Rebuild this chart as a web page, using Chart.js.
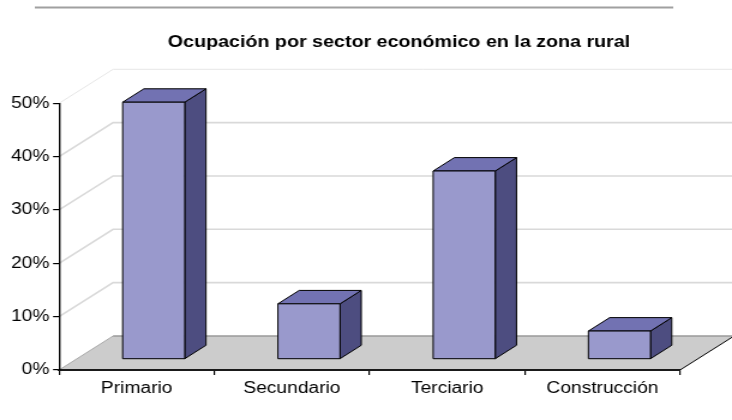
<!DOCTYPE html>
<html>
<head>
<meta charset="utf-8">
<script src="https://cdn.jsdelivr.net/npm/chart.js@4.4.1/dist/chart.umd.min.js"></script>
<style>
  html, body { margin: 0; padding: 0; background: #fff; overflow: hidden; }
  #wrap { width: 610px; height: 420px; transform: scaleX(1.2); transform-origin: 0 0; }
  canvas { display: block; }
</style>
</head>
<body>
<div id="wrap"><canvas id="c" width="610" height="420"></canvas></div>
<script>
// ---- data ----
const categories = ['Primario', 'Secundario', 'Terciario', 'Construcción'];
const values = [48.2, 10.4, 35.3, 5.3];
const yTicks = [0, 10, 20, 30, 40, 50];
const chartTitle = 'Ocupación por sector económico en la zona rural';

// ---- 3D style (depth of the box in canvas units) ----
const DEPTH = { dx: 45, dy: -34 };
const BAR_FRONT = 0.315;   // fraction of depth where the bar front face sits
const BAR_DEPTH = 0.394;   // fraction of depth the bar occupies
const COLORS = {
  front: '#9999CC', top: '#7272B2', side: '#4D4D80',
  floor: '#CCCCCC', grid: '#D9D9D9', edge: '#000000'
};

const scene3d = {
  id: 'scene3d',
  beforeDraw(chart) {
    const ctx = chart.ctx, a = chart.chartArea;
    const ys = chart.scales.y;
    const {dx, dy} = DEPTH;
    const yB = ys.getPixelForValue(0);
    ctx.save();
    // top decorative rule
    ctx.strokeStyle = '#A0A0A0'; ctx.lineWidth = 2;
    ctx.beginPath(); ctx.moveTo(29, 7.5); ctx.lineTo(561, 7.5); ctx.stroke();
    // wall gridlines
    yTicks.forEach(v => {
      if (v === 0) return;
      const y = ys.getPixelForValue(v);
      ctx.strokeStyle = v === 50 ? '#E6E6E6' : COLORS.grid;
      ctx.lineWidth = v === 50 ? 1 : 1.6;
      ctx.beginPath();
      ctx.moveTo(a.left, y);
      ctx.lineTo(a.left + dx, y + dy);
      ctx.lineTo(a.right + dx + 10, y + dy);
      ctx.stroke();
    });
    // floor
    ctx.fillStyle = COLORS.floor;
    ctx.beginPath();
    ctx.moveTo(a.left, yB);
    ctx.lineTo(a.right, yB);
    ctx.lineTo(a.right + dx, yB + dy);
    ctx.lineTo(a.left + dx, yB + dy);
    ctx.closePath();
    ctx.fill();
    // floor back edge
    ctx.strokeStyle = '#9A9A9A'; ctx.lineWidth = 1.6;
    ctx.beginPath(); ctx.moveTo(a.left + dx, yB + dy); ctx.lineTo(a.right + dx + 10, yB + dy); ctx.stroke();
    // floor left edge
    ctx.strokeStyle = '#A8A8A8'; ctx.lineWidth = 1;
    ctx.beginPath(); ctx.moveTo(a.left, yB); ctx.lineTo(a.left + dx, yB + dy); ctx.stroke();
    // floor right edge
    ctx.strokeStyle = '#000'; ctx.lineWidth = 1;
    ctx.beginPath(); ctx.moveTo(a.right, yB); ctx.lineTo(a.right + dx, yB + dy); ctx.stroke();
    ctx.restore();
  },
  afterDatasetsDraw(chart) {
    const ctx = chart.ctx;
    const {dx, dy} = DEPTH;
    const fx = dx * BAR_FRONT, fy = dy * BAR_FRONT;
    const bx = dx * BAR_DEPTH, by = dy * BAR_DEPTH;
    const meta = chart.getDatasetMeta(0);
    ctx.save();
    ctx.lineWidth = 1;
    ctx.strokeStyle = COLORS.edge;
    ctx.lineJoin = 'round';
    meta.data.forEach(bar => {
      const p = bar.getProps(['x', 'y', 'base', 'width'], true);
      const L = p.x - p.width / 2 + fx, R = p.x + p.width / 2 + fx;
      const T = p.y + fy, B = p.base + fy;
      // side
      ctx.fillStyle = COLORS.side;
      ctx.beginPath();
      ctx.moveTo(R, T); ctx.lineTo(R + bx, T + by); ctx.lineTo(R + bx, B + by); ctx.lineTo(R, B);
      ctx.closePath(); ctx.fill(); ctx.stroke();
      // top
      ctx.fillStyle = COLORS.top;
      ctx.beginPath();
      ctx.moveTo(L, T); ctx.lineTo(R, T); ctx.lineTo(R + bx, T + by); ctx.lineTo(L + bx, T + by);
      ctx.closePath(); ctx.fill(); ctx.stroke();
      // front
      ctx.fillStyle = COLORS.front;
      ctx.beginPath();
      ctx.rect(L, T, R - L, B - T);
      ctx.fill(); ctx.stroke();
    });
    ctx.restore();
  },
  afterDraw(chart) {
    const ctx = chart.ctx;
    ctx.save();
    ctx.fillStyle = '#000';
    ctx.font = 'bold 16.4px "Liberation Sans", Arial, sans-serif';
    ctx.textAlign = 'center';
    ctx.textBaseline = 'alphabetic';
    ctx.fillText(chartTitle, 332.5, 47);
    ctx.restore();
  }
};

new Chart(document.getElementById('c'), {
  type: 'bar',
  data: {
    labels: categories,
    datasets: [{
      data: values,
      backgroundColor: 'rgba(0,0,0,0)',
      borderWidth: 0,
      barPercentage: 0.4,
      categoryPercentage: 1.0
    }]
  },
  options: {
    responsive: false,
    animation: false,
    devicePixelRatio: 1,
    layout: { padding: { top: 103.3, right: 43.3, bottom: 0, left: 0 } },
    plugins: { legend: { display: false }, title: { display: false }, tooltip: { enabled: false } },
    scales: {
      x: {
        offset: true,
        afterFit(s) { s.height = 50; },
        grid: { display: true, offset: true, drawOnChartArea: false, drawTicks: true, tickLength: 5, color: '#000', lineWidth: 1.2 },
        border: { display: true, color: '#1a1a1a', width: 2 },
        ticks: { color: '#000', padding: 4, font: { family: '"Liberation Sans", Arial, sans-serif', size: 16 } }
      },
      y: {
        min: 0, max: 50,
        afterFit(s) { s.width = 49.2; },
        afterBuildTicks(s) { s.ticks = yTicks.map(v => ({ value: v })); },
        grid: { display: true, drawOnChartArea: false, drawTicks: true, tickLength: 5, color: '#000', lineWidth: 1.2 },
        border: { display: true, color: '#000', width: 1.4 },
        ticks: { color: '#000', padding: 3, callback: v => v + '%', font: { family: '"Liberation Sans", Arial, sans-serif', size: 16 } }
      }
    }
  },
  plugins: [scene3d]
});
</script>
</body>
</html>
